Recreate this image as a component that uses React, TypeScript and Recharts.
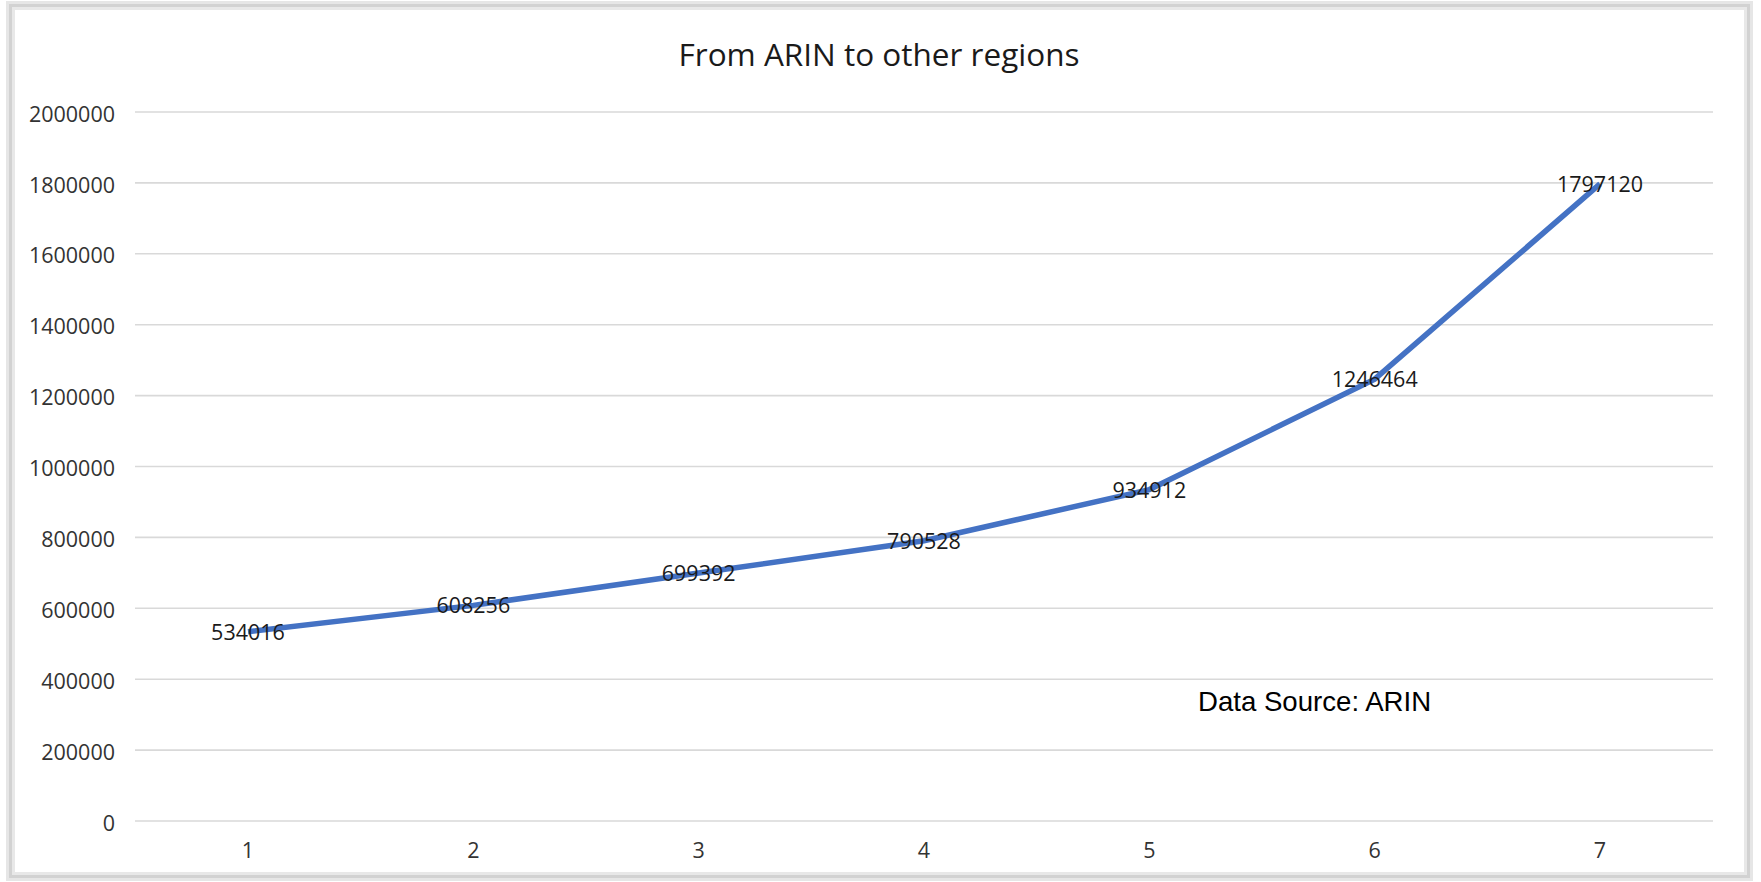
import React from "react";
import { CartesianGrid, LabelList, Line, LineChart, XAxis, YAxis } from "recharts";

const periods = ["1", "2", "3", "4", "5", "6", "7"];
const transfers = [534016, 608256, 699392, 790528, 934912, 1246464, 1797120];
const yTicks = [0, 200000, 400000, 600000, 800000, 1000000, 1200000, 1400000, 1600000, 1800000, 2000000];

const chartTitle = "From ARIN to other regions";
const sourceNote = "Data Source: ARIN";

const data = periods.map((p, i) => ({ period: p, value: transfers[i] }));

const W = 1761;
const H = 882;
const FONT = "'Open Sans', 'DejaVu Sans', sans-serif";

const ValueLabel = (props: any) => {
  const { x, y, value } = props;
  return (
    <text
      x={x}
      y={y}
      dy={8}
      textAnchor="middle"
      fontFamily={FONT}
      fontSize={21.5}
      fill="#1a1a1a"
    >
      {value}
    </text>
  );
};

export default function App() {
  return (
    <div
      style={{
        position: "fixed",
        left: 0,
        top: 0,
        width: W,
        height: H,
        background: "#fff",
      }}
    >
      {/* grey frame round the chart */}
      <div
        style={{
          position: "absolute",
          left: 6,
          top: 1,
          width: 1747,
          height: 880,
          boxSizing: "border-box",
          border: "3px solid #e6e6e6",
        }}
      >
        <div
          style={{
            position: "absolute",
            inset: 0,
            border: "3px solid #d2d2d2",
          }}
        >
          <div
            style={{
              position: "absolute",
              inset: 0,
              border: "3px solid #e8e8e8",
            }}
          />
        </div>
      </div>
      <div style={{ position: "absolute", left: 0, top: 0 }}>
        <LineChart
          width={W}
          height={H}
          data={data}
          margin={{ top: 112, right: 48, left: 0, bottom: 0 }}
        >
          <CartesianGrid vertical={false} stroke="#d9d9d9" strokeWidth={1.6} />
          <XAxis
            dataKey="period"
            height={61}
            padding={{ left: 113, right: 113 }}
            axisLine={false}
            tickLine={false}
            tickSize={6}
            tickMargin={16}
            tick={{ fill: "#333", fontSize: 21.5, fontFamily: FONT }}
          />
          <YAxis
            width={135}
            domain={[0, 2000000]}
            ticks={yTicks}
            interval={0}
            axisLine={false}
            tickLine={false}
            tickSize={6}
            tickMargin={14}
            tick={{ fill: "#333", fontSize: 21.5, fontFamily: FONT, dy: 2 }}
          />
          <Line
            type="linear"
            dataKey="value"
            stroke="#4472c4"
            strokeWidth={5.5}
            dot={false}
            isAnimationActive={false}
          >
            <LabelList dataKey="value" content={ValueLabel} />
          </Line>
          <text
            x={879}
            y={66}
            textAnchor="middle"
            fontFamily={FONT}
            fontSize={31.5}
            fill="#1a1a1a"
          >
            {chartTitle}
          </text>
          <text
            x={1198}
            y={711}
            fontFamily="'Liberation Sans', Arial, sans-serif"
            fontSize={27.6}
            fill="#000"
          >
            {sourceNote}
          </text>
        </LineChart>
      </div>
    </div>
  );
}
